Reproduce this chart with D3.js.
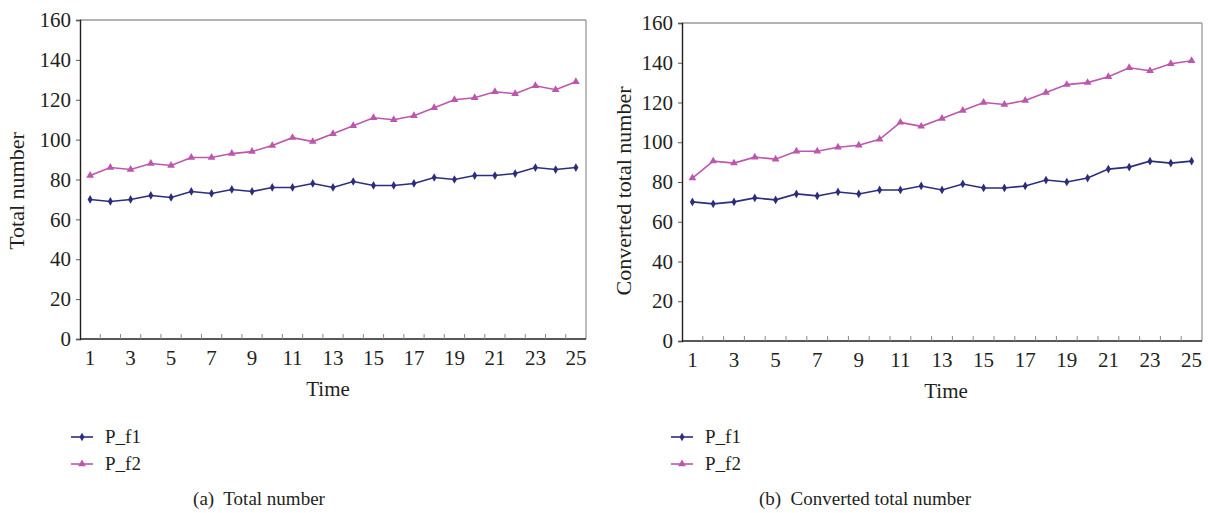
<!DOCTYPE html>
<html><head><meta charset="utf-8">
<script src="https://cdn.jsdelivr.net/npm/d3@7"></script>
<style>
html,body{margin:0;padding:0;background:#fff;}
svg text{font-family:"Liberation Serif","Times New Roman",serif;fill:#231f20;}
</style></head>
<body>
<svg id="c" width="1208" height="513"></svg>
<script>
const times = d3.range(1, 26);
const xTickLabels = [1,3,5,7,9,11,13,15,17,19,21,23,25];
const yTicks = [0,20,40,60,80,100,120,140,160];
const seriesNames = ["P_f1", "P_f2"];
const colors = ["#2b2e7c", "#bd57ad"];

const totalPf1 = [70,69,70,72,71,74,73,75,74,76,76,78,76,79,77,77,78,81,80,82,82,83,86,85,86];
const totalPf2 = [82,86,85,88,87,91,91,93,94,97,101,99,103,107,111,110,112,116,120,121,124,123,127,125,129];
const convPf1 = [70,69,70,72,71,74,73,75,74,76,76,78,76,79,77,77,78,81,80,82,86.5,87.5,90.5,89.5,90.5];
const convPf2 = [82,90.5,89.5,92.5,91.5,95.5,95.5,97.5,98.5,101.5,110,108,112,116,120,119,121,125,129,130,133,137.5,136,139.5,141];

const svg = d3.select("#c");

function panel(cfg) {
  const {left, right, top, bottom, series, yLabel, yLabelX, titleX, caption, captionX, legendX} = cfg;
  const g = svg.append("g");
  const x = d3.scaleBand().domain(times).range([left, right]);
  const y = d3.scaleLinear().domain([0, 160]).range([bottom, top]);

  g.append("line").attr("x1", left).attr("x2", right).attr("y1", top).attr("y2", top)
    .attr("stroke", "#9a9a9a").attr("stroke-width", 1.3);
  g.append("line").attr("x1", right).attr("x2", right).attr("y1", top).attr("y2", bottom)
    .attr("stroke", "#9a9a9a").attr("stroke-width", 1.3);

  const ya = g.append("g").attr("transform", `translate(${left},0)`)
    .call(d3.axisLeft(y).tickValues(yTicks).tickSize(4).tickPadding(5));
  ya.select(".domain").attr("stroke", "#231f20").attr("stroke-width", 1.4);
  ya.selectAll(".tick line").attr("stroke", "#555");
  ya.selectAll("text").style("font-size", "21px").attr("fill", "#231f20");

  const xa = g.append("g").attr("transform", `translate(0,${bottom})`);
  xa.append("line").attr("x1", left).attr("x2", right).attr("y1", 0).attr("y2", 0)
    .attr("stroke", "#231f20").attr("stroke-width", 1.4);
  xa.selectAll("line.tk").data(times.slice(1)).join("line").attr("class", "tk")
    .attr("x1", d => x(d)).attr("x2", d => x(d)).attr("y1", 0).attr("y2", -5)
    .attr("stroke", "#888");
  xa.selectAll("text").data(xTickLabels).join("text")
    .attr("x", d => x(d) + x.bandwidth() / 2).attr("y", 25.5)
    .attr("text-anchor", "middle").style("font-size", "21px").text(d => d);

  g.append("text").attr("x", titleX).attr("y", bottom + 57)
    .attr("text-anchor", "middle").style("font-size", "21px").text("Time");
  g.append("text").attr("transform", `translate(${yLabelX},191) rotate(-90)`)
    .attr("text-anchor", "middle").style("font-size", "22px").text(yLabel);

  const line = d3.line().x((d, i) => x(times[i]) + x.bandwidth() / 2).y(d => y(d));
  const diamond = d3.symbol().type(d3.symbolDiamond).size(22);
  const tri = d3.symbol().type(d3.symbolTriangle).size(26);

  series.forEach((vals, si) => {
    g.append("path").datum(vals).attr("d", line).attr("fill", "none")
      .attr("stroke", colors[si]).attr("stroke-width", 1.6);
    g.selectAll(null).data(vals).join("path")
      .attr("transform", (d, i) => `translate(${x(times[i]) + x.bandwidth() / 2},${y(d)})`)
      .attr("d", si === 0 ? diamond : tri).attr("fill", colors[si]);
  });

  seriesNames.forEach((n, si) => {
    const ly = 437 + si * 27;
    g.append("line").attr("x1", legendX).attr("x2", legendX + 22).attr("y1", ly).attr("y2", ly)
      .attr("stroke", colors[si]).attr("stroke-width", 1.6);
    g.append("path").attr("transform", `translate(${legendX + 11},${ly})`)
      .attr("d", si === 0 ? diamond : tri).attr("fill", colors[si]);
    g.append("text").attr("x", legendX + 34).attr("y", ly + 6).style("font-size", "19px").text(n);
  });

  g.append("text").attr("x", captionX).attr("y", 505).attr("text-anchor", "middle")
    .style("font-size", "19px").attr("xml:space", "preserve").text(caption);
}

panel({left: 80, right: 586, top: 20, bottom: 339, series: [totalPf1, totalPf2],
  yLabel: "Total number", yLabelX: 24, titleX: 328, caption: "(a)  Total number", captionX: 259, legendX: 71});
panel({left: 682, right: 1202, top: 23, bottom: 341, series: [convPf1, convPf2],
  yLabel: "Converted total number", yLabelX: 631, titleX: 946, caption: "(b)  Converted total number", captionX: 865, legendX: 671});
</script>
</body></html>
